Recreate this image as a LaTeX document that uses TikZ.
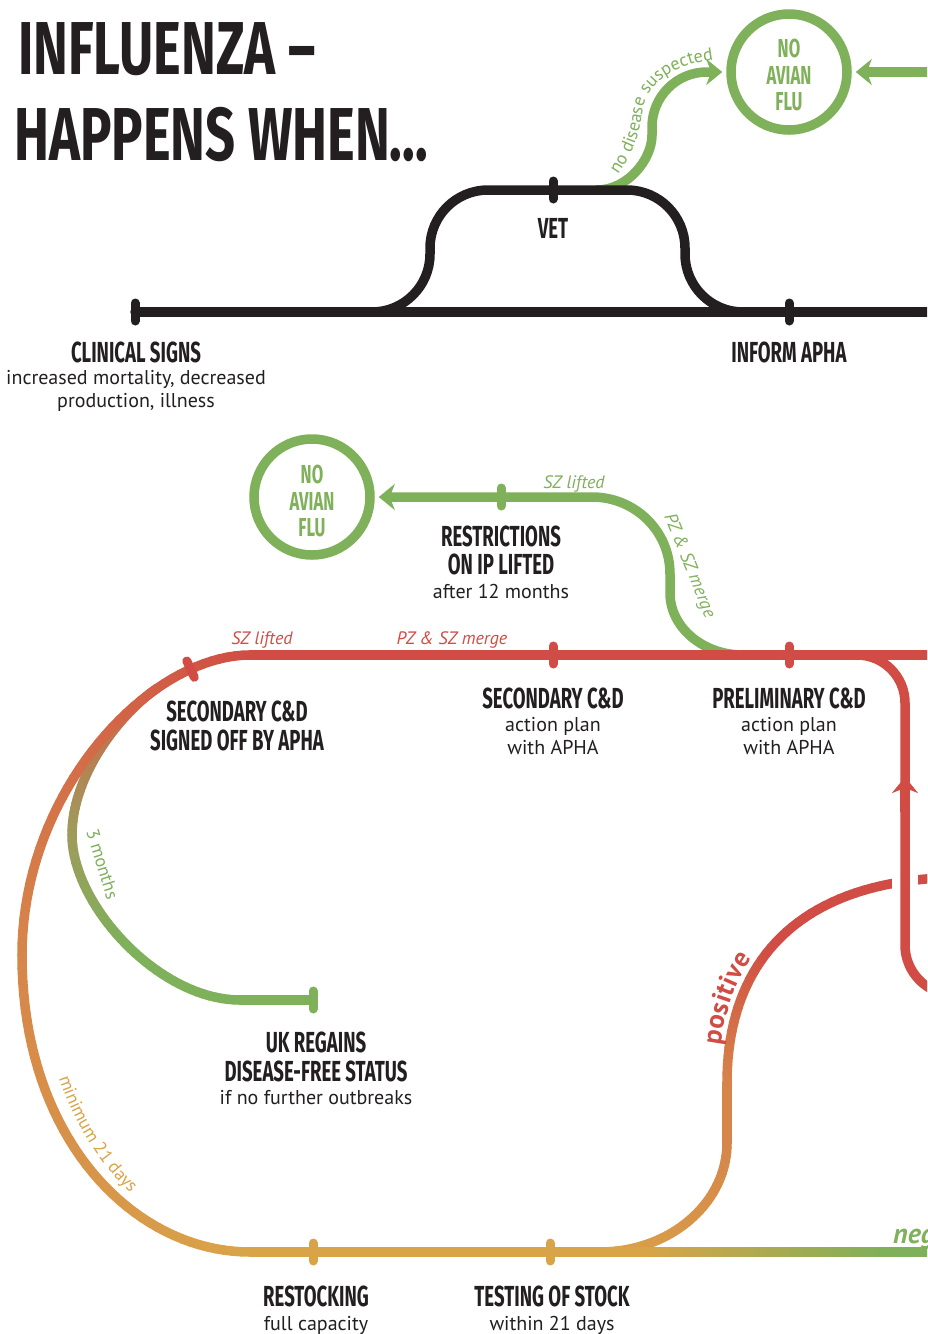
\documentclass[tikz,border=0pt]{standalone}
\usepackage{fontspec}
\usetikzlibrary{arrows.meta,decorations.text,decorations.markings}
\newfontfamily\hf{Fira Sans}[FakeStretch=0.64]
\newfontfamily\tf{Fira Sans}[FakeStretch=0.70]
\newfontfamily\bodyf{PT Sans}
\newcommand\lblf{\bodyf\itshape\fontsize{18}{18}\selectfont}
\newcommand\crvf{\bodyf\fontsize{18}{18}\selectfont}
\newcommand\posf{\bodyf\bfseries\fontsize{27}{27}\selectfont}
\definecolor{blk}{HTML}{231F20}
\definecolor{redc}{HTML}{D04C44}
\definecolor{orc}{HTML}{D6864A}
\definecolor{goldc}{HTML}{D9A448}
\definecolor{grn}{HTML}{7FB05A}
\definecolor{olv}{HTML}{A09A5C}
\colorlet{rorc}{orc!30!redc}
\tikzset{
  ln/.style={line width=9.5pt, line cap=round},
  tk/.style={line width=9pt, line cap=round},
  arr/.style={-{Stealth[length=16pt,width=26pt,inset=5pt]}},
  ttl/.style={font=\tf\bfseries\fontsize{75}{75}\selectfont, text=blk, inner sep=0pt, anchor=base west},
  head/.style={font=\hf\bfseries\fontsize{29}{29}\selectfont, text=blk, inner sep=0pt, anchor=base},
  body/.style={font=\bodyf\fontsize{20}{20}\selectfont, text=blk, inner sep=0pt, anchor=base},
  ilab/.style={font=\lblf, inner sep=0pt, anchor=base},
  rlab/.style={font=\crvf, inner sep=0pt, anchor=base west},
  ctxt/.style={font=\hf\bfseries\fontsize{26}{26}\selectfont, text=grn, inner sep=0pt, anchor=base},
  gcirc/.style={draw=grn, line width=9.5pt, circle, minimum size=116pt, inner sep=0pt},
}
% gradient along a single segment: #1 path, #2 from, #3 to, #4 speed
\newcommand\gradseg[4]{%
  \path #1 \foreach \k [evaluate=\k as \t using \k/40] in {0,...,40}{coordinate[pos=\t] (gq\k)};
  \foreach \k [evaluate=\k as \j using int(\k+1), evaluate=\k as \pc using {min(100,100*(\k+0.5)/40*#4)}] in {0,...,39}
    {\draw[ln, color=#3!\pc!#2] (gq\k) -- (gq\j);}
}
\begin{document}
\begin{tikzpicture}[x=1pt,y=-1pt]
\useasboundingbox (0,0) rectangle (927,1334);
\fill[white] (0,0) rectangle (927,1334);
\clip (0,0) rectangle (927,1334);

% ---------- title
\node[ttl] (t1) at (18,74) {INFLUENZA –};
\node[ttl] (t2) at (14,160) {HAPPENS WHEN...};

% ---------- circles
\node[gcirc] (c1) at (789,72) {};
\node[ctxt] (c1a) at (789,57) {NO};
\node[ctxt] (c1b) at (789,84) {AVIAN};
\node[ctxt] (c1c) at (789,110) {FLU};
\node[gcirc] (c2) at (312,497) {};
\node[ctxt] (c2a) at (312,483) {NO};
\node[ctxt] (c2b) at (312,510) {AVIAN};
\node[ctxt] (c2c) at (312,536) {FLU};

% ---------- green top branch
\draw[grn, ln, arr] (597,190) .. controls (627.4,190) and (652,159.6) .. (652,135) -- (652,127) .. controls (652,96.6) and (676.6,72) .. (707,72) -- ([xshift=-4pt]c1.west);
\path[decorate, decoration={text along path, text={|\crvf|no disease suspected}, text color=grn, text align={left indent=2pt}}]
  (617,176) .. controls (634,152) and (640,132) .. (642,114) .. controls (645,86) and (670,62) .. (725,59);
\draw[grn, ln, arr] (940,72) -- ([xshift=4pt]c1.east);

% ---------- black line
\draw[blk, ln] (135,312) -- (940,312);
\draw[blk, ln] (372,312) .. controls (404,312) and (430,286) .. (430,254) -- (430,248) .. controls (430,216) and (456,190) .. (488,190) -- (627,190) .. controls (659,190) and (685,216) .. (685,248) -- (685,254) .. controls (685,286) and (711,312) .. (743,312);
\draw[blk, tk] (135,303) -- (135,321);
\draw[blk, tk] (553,181) -- (553,199);
\draw[blk, tk] (789,303) -- (789,321);
\node[head] (vet) at (553,238) {VET};
\node[head] (inf) at (789,362) {INFORM APHA};
\node[head] (cs) at (136,362) {CLINICAL SIGNS};
\node[body] (cs1) at (136,384) {increased mortality, decreased};
\node[body] (cs2) at (136,407) {production, illness};

% ---------- green restrictions line
\draw[grn, ln, arr] (743,655) .. controls (702.7,655) and (670,627.2) .. (670,593) -- (670,574) .. controls (670,531) and (635,497) .. (592,497) -- ([xshift=4pt]c2.east);
\draw[grn, tk] (501,488) -- (501,506);
\node[rlab, font=\lblf, text=grn, rotate=-68] (pzg) at (664,516) {PZ \& SZ merge};
\node[ilab, text=grn] (szg) at (574,488) {SZ lifted};
\node[head] (rs1) at (501,546) {RESTRICTIONS};
\node[head] (rs2) at (501,574) {ON IP LIFTED};
\node[body] (rs3) at (501,598) {after 12 months};

% ---------- positive curve
\gradseg{(600,1252) .. controls (670,1252) and (727,1203) .. (727,1143)}{goldc}{orc}{1}
\draw[orc, ln] (727,1143) -- (727,1083);
\gradseg{(727,1083) .. controls (727,960) and (800,885) .. (940,878)}{orc}{redc}{2.2}
\path[decorate, decoration={text along path, text={|\posf|positive}, text color=redc, text align={left indent=36pt}, raise=9pt}]
  (727,1083) .. controls (727,960) and (800,885) .. (940,878);

% ---------- red line
\draw[redc, ln] (250,655) -- (940,655);
\draw[white, line width=26pt] (905,862) -- (905,902);
\draw[redc, ln] (975,995) -- (955,995) .. controls (927.4,995) and (905,972.6) .. (905,945) -- (905,703) .. controls (905,676.5) and (883.5,655) .. (857,655);
\draw[redc, line width=9.5pt, arr] (905,812) -- (905,777);
\draw[redc, tk] (553,646) -- (553,664);
\draw[redc, tk] (789,646) -- (789,664);
\node[ilab, text=redc] (szr) at (262,644) {SZ lifted};
\node[ilab, text=redc] (pzr) at (452,644) {PZ \& SZ merge};
\node[head] (sc1) at (553,708) {SECONDARY C\&D};
\node[body] (sc2) at (553,731) {action plan};
\node[body] (sc3) at (553,754) {with APHA};
\node[head] (pc1) at (789,708) {PRELIMINARY C\&D};
\node[body] (pc2) at (789,731) {action plan};
\node[body] (pc3) at (789,754) {with APHA};
\node[head] (so1) at (237,721) {SECONDARY C\&D};
\node[head] (so2) at (237,750) {SIGNED OFF BY APHA};

% ---------- green 3 months branch
\gradseg{(156.6,688.6) .. controls (119.7,714.3) and (72,775) .. (72,835)}{rorc}{olv}{1}
\gradseg{(72,835) .. controls (72,905) and (159,1000) .. (240,1000)}{olv}{grn}{2}
\draw[grn, ln] (240,1000) -- (313,1000);
\draw[grn, tk] (313,991) -- (313,1009);
\node[rlab, text=grn, rotate=-73] (thm) at (86,831) {3 months};
\node[head] (uk1) at (316,1052) {UK REGAINS};
\node[head] (uk2) at (316,1081) {DISEASE-FREE STATUS};
\node[body] (uk3) at (316,1104) {if no further outbreaks};

% ---------- big left curve
\gradseg{(250,655) .. controls (150,655) and (22,790) .. (22,955)}{redc}{orc}{1}
\gradseg{(22,955) .. controls (22,1140) and (135,1252) .. (250,1252)}{orc}{goldc}{1}
\path[decorate, decoration={markings, mark=at position 0.15 with {\draw[redc, tk] (0pt,-9pt) -- (0pt,9pt);}}]
  (250,655) .. controls (150,655) and (22,790) .. (22,955);
\path[decorate, decoration={text along path, text={|\crvf|minimum 21 days}, text color=goldc, text align={left indent=0pt}}]
  (59,1078) .. controls (76,1128) and (101,1168) .. (145,1207);

% ---------- bottom line
\draw[goldc, ln] (250,1252) -- (650,1252);
\gradseg{(650,1252) -- (890,1252)}{goldc}{grn}{1}
\draw[grn, ln] (890,1252) -- (940,1252);
\draw[goldc, tk] (313,1243) -- (313,1261);
\draw[goldc, tk] (550,1243) -- (550,1261);
\node[head] (rk1) at (316,1306) {RESTOCKING};
\node[body] (rk2) at (316,1330) {full capacity};
\node[head] (ts1) at (552,1306) {TESTING OF STOCK};
\node[body] (ts2) at (552,1330) {within 21 days};
\node[font=\bodyf\bfseries\itshape\fontsize{28}{28}\selectfont, text=grn, inner sep=0pt, anchor=base west] (neg) at (893,1243) {neg};
\end{tikzpicture}
\end{document}
